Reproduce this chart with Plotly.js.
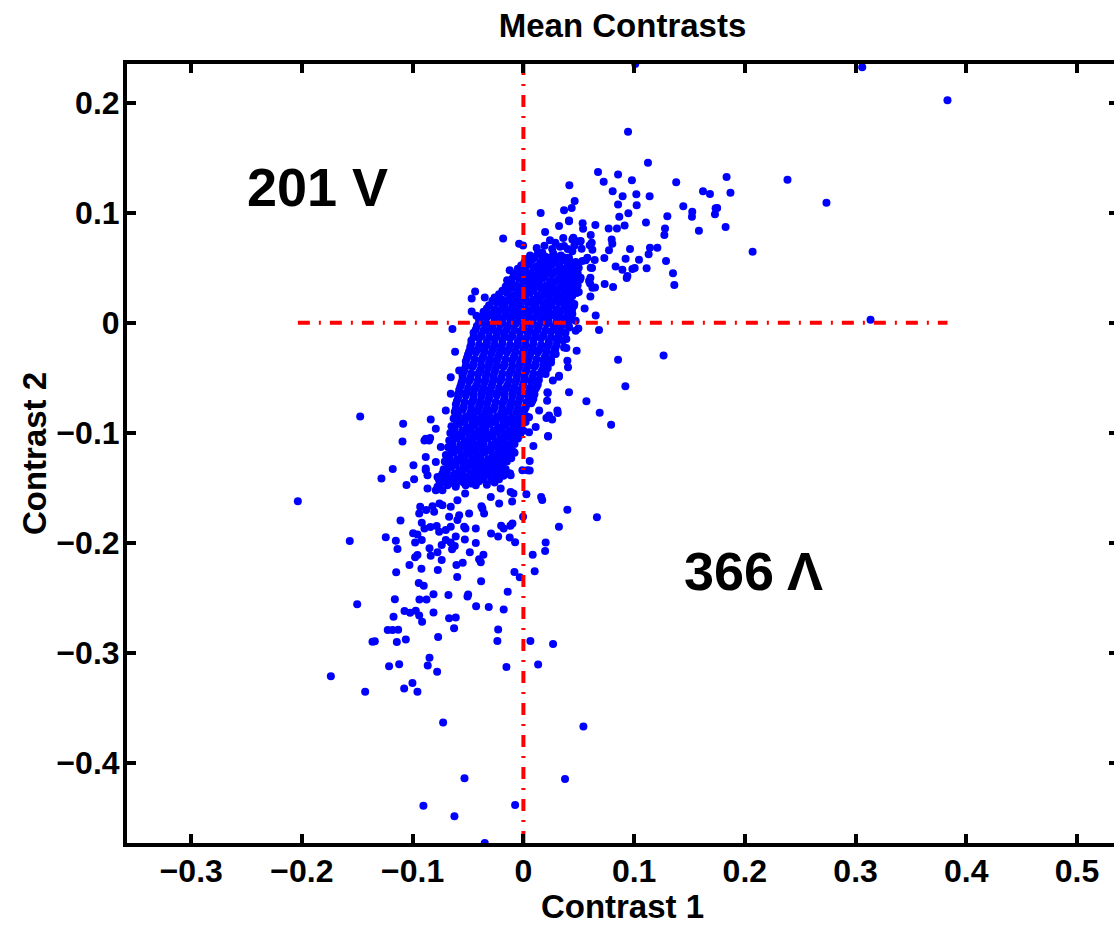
<!DOCTYPE html>
<html>
<head>
<meta charset="utf-8">
<script src="https://cdn.plot.ly/plotly-3.0.1.min.js"></script>
<style>
html,body{margin:0;padding:0;overflow:hidden;background:#fff;}
#chart{width:1118px;height:925px;}
</style>
</head>
<body>
<div id="chart"></div>
<script>
// ---- Data (Contrast 1, Contrast 2) ----
const scatteredPoints = [
[0.101,0.235],[0.306,0.232],[0.383,0.202],[0.0945,0.1735],[0.1125,0.1454],[0.0674,0.137],[0.0855,0.1346],[0.0725,0.128],
[0.098,0.1294],[0.0415,0.1249],[0.138,0.1276],[0.1835,0.1324],[0.2385,0.130],[0.2737,0.1089],[0.0806,0.1195],[0.0896,0.1149],
[0.102,0.1167],[0.114,0.1149],[0.1622,0.1195],[0.1685,0.117],[0.187,0.118],[0.0463,0.1107],[0.0436,0.1043],[0.0367,0.1023],
[0.0855,0.1074],[0.1023,0.1068],[0.0948,0.0995],[0.0866,0.0962],[0.1444,0.1059],[0.1525,0.1008],[0.1522,0.0962],[0.175,0.1043],
[0.1736,0.104],[0.173,0.0986],[0.13,0.0968],[0.0412,0.0929],[0.0535,0.0905],[0.0539,0.0853],[0.065,0.0887],[0.077,0.0857],
[0.0845,0.0857],[0.0914,0.0884],[0.1107,0.091],[0.1279,0.0857],[0.1273,0.0797],[0.1585,0.0835],[0.1826,0.0869],[0.0608,0.0797],
[0.0451,0.0772],[0.0514,0.0739],[0.0617,0.0727],[0.0797,0.0757],[0.0803,0.0718],[0.0599,0.0703],[0.0623,0.0663],[0.0526,0.0672],
[0.0442,0.0649],[0.0773,0.0658],[0.0963,0.067],[0.121,0.0682],[0.1143,0.0682],[0.1131,0.0622],[0.1044,0.0573],[0.0923,0.0582],
[0.0731,0.0588],[0.0644,0.057],[0.1288,0.0561],[0.207,0.0645],[0.0833,0.051],[0.0894,0.0482],[0.0984,0.0489],[0.1005,0.0498],
[0.1113,0.0495],[0.062,0.0498],[0.0563,0.0567],[0.0473,0.0552],[0.1351,0.045],[0.1363,0.0344],[0.0939,0.0425],[0.0933,0.0407],
[0.0734,0.0353],[0.081,0.0326],[0.0605,0.041],[0.0602,0.0356],[0.0647,0.032],[0.0605,0.0238],[0.0553,0.013],[0.0653,0.0066],
[0.3135,0.0027],[0.0496,-0.0052],[0.0683,-0.0066],[0.0481,-0.0253],[0.0388,-0.0148],[0.0388,-0.0229],[0.0855,-0.0335],[0.1266,-0.0296],
[0.0156,0.0998],[0.0196,0.0824],[0.0322,0.0878],[0.0412,0.0923],[-0.0183,0.0766],[-0.0039,0.0718],[-0.0003,0.0701],
[-0.0436,0.0283],[-0.0467,0.022],[-0.0349,0.0229],[-0.0467,0.0102],[-0.0424,0.0063],[-0.0641,-0.0057],[-0.0617,-0.0262],
[-0.0124,0.0477],[-0.0147,0.0386],[0.0039,0.0552],[0.0102,0.0597],[0.0171,0.0636],[0.0277,0.0612],[0.0403,-0.0404],[0.0472,-0.0072],
[0.0289,0.0727],[0.0367,0.0697],[0.0442,0.0757],[0.0517,0.0742],[0.0578,0.0591],[0.0532,0.0561],[0.0608,0.05],[0.0412,0.0591],
[0.0457,0.05],[0.0517,0.041],[0.0593,0.038],[0.0623,0.0319],[0.0442,0.0079],[0.0472,0.0018],[0.0367,-0.0012],
[0.0412,0.0561],[0.0457,0.0531],[0.0382,0.0441],[0.0427,0.041],[0.0367,0.0319],[0.0442,0.029],[0.0487,0.029],[0.0382,0.0199],
[0.0457,0.0154],[0.0412,0.0079],[0.0412,-0.0042],
[-0.0496,-0.0283],[-0.058,-0.0434],[-0.0656,-0.0495],[-0.055,-0.0525],[-0.0656,-0.0645],[-0.0701,-0.0796],[-0.0837,-0.0878],
[-0.0882,-0.1053],[-0.0882,-0.1219],
[0.0201,-0.0314],[0.0292,-0.0283],[0.0367,-0.0224],[0.0397,-0.0344],[0.0201,-0.0464],[0.0322,-0.048],[0.0412,-0.0631],[0.0217,-0.0631],
[0.0569,-0.0712],[0.0689,-0.0817],[0.0792,-0.0926],[0.0921,-0.0576],[0.0223,-0.1029],[0.009,-0.1119],[0.0051,-0.0857],[0.0232,-0.0842],
[0.0111,-0.0947],[-0.012,-0.1369],[-0.0009,-0.1339],
[0.0321,-0.0491],[0.0266,-0.0525],[0.022,-0.0638],[0.0214,-0.0709],[0.031,-0.0819],[0.0208,-0.0865],[0.026,-0.0878],[0.017,-0.161],
[0.0397,-0.1697],[0.0664,-0.1765],[0.0321,-0.1853],[0.0233,-0.0359],[0.0202,-0.043],
[-0.0791,-0.0962],[-0.0851,-0.1068],[-0.0746,-0.1128],[-0.0791,-0.1264],[-0.0882,-0.1324],[-0.0866,-0.1385],[-0.0776,-0.14],
[-0.0866,-0.1505],[-0.0776,-0.149],[-0.0686,-0.1475],[-0.0611,-0.1415],[-0.0521,-0.1475],[-0.043,-0.1475],[-0.0415,-0.1355],
[-0.0355,-0.1324],[-0.028,-0.1279],[-0.0265,-0.1355],[-0.019,-0.1339],[-0.0115,-0.1385],[-0.0295,-0.1581],[-0.0205,-0.1505],
[-0.0115,-0.1536],[-0.0219,-0.1641],[-0.037,-0.1686],[-0.049,-0.1731],[-0.0596,-0.1611],[-0.0656,-0.1671],[-0.0731,-0.1656],
[-0.0806,-0.1716],[-0.058,-0.1747],
[0.0081,-0.0645],[0.0142,-0.0796],[0.0051,-0.0993],[0.0307,-0.0796],[0.0036,-0.1339],
[-0.1474,-0.0851],[-0.2037,-0.162],[-0.1568,-0.1982],[-0.1501,-0.2555],[-0.1739,-0.321],[-0.1429,-0.335],[-0.1086,-0.0917],
[-0.1092,-0.1077],[-0.118,-0.1328],[-0.1282,-0.1415],[-0.1056,-0.1472],[-0.0993,-0.1294],[-0.0987,-0.1421],[-0.0894,-0.1068],
[-0.0842,-0.1047],[-0.111,-0.1795],[-0.1243,-0.1948],[-0.1152,-0.1979],[-0.1137,-0.2054],[-0.0996,-0.1912],[-0.0978,-0.1996],
[-0.0957,-0.2109],[-0.0978,-0.213],[-0.1029,-0.2199],[-0.1149,-0.2265],[-0.0921,-0.2233],[-0.0945,-0.2362],[-0.09,-0.2389],
[-0.1161,-0.251],[-0.0939,-0.2513],[-0.0875,-0.2513],[-0.1074,-0.2618],[-0.1023,-0.2633],[-0.0972,-0.2615],[-0.0941,-0.2657],
[-0.0915,-0.2715],[-0.1173,-0.267],[-0.1225,-0.279],[-0.1182,-0.279],[-0.1131,-0.2787],[-0.1363,-0.2896],[-0.1342,-0.2893],
[-0.1143,-0.2899],[-0.1062,-0.2875],[-0.1213,-0.312],[-0.1122,-0.3101],[-0.1077,-0.3321],[-0.1002,-0.327],[-0.0957,-0.3351],
[-0.0848,-0.3041],[-0.0864,-0.3113],[-0.0779,-0.317],[-0.077,-0.2853],[-0.0812,-0.2465],[-0.0812,-0.2631],[-0.0677,-0.2471],
[-0.0671,-0.2683],[-0.0611,-0.2677],[-0.0626,-0.2773],[-0.0598,-0.2308],[-0.0382,-0.2347],[-0.0499,-0.2468],[-0.0505,-0.2486],
[-0.0427,-0.2573],[-0.0313,-0.2582],[-0.0178,-0.2604],[-0.0142,-0.2443],[-0.0228,-0.2785],[-0.0235,-0.289],[-0.0153,-0.3125],
[0.0063,-0.289],[0.0133,-0.3104],[0.0268,-0.2917],[-0.0081,-0.2262],[-0.0033,-0.231],[0.0102,-0.2256],[0.0084,-0.2106],
[0.0201,-0.1996],[0.0196,-0.2072],[0.0223,-0.1032],[0.016,-0.1581],[0.0027,-0.1557],[-0.0003,-0.1762],[-0.0075,-0.1994],
[0.0057,-0.1342],[0.0057,-0.1255],[-0.0102,-0.1623],[-0.009,-0.155],[-0.0201,-0.1843],[-0.0178,-0.1867],[-0.0117,-0.1843],
[-0.0292,-0.1914],[-0.0228,-0.1941],[-0.0124,-0.195],[-0.043,-0.2],[-0.0361,-0.2106],[-0.0385,-0.2175],[-0.04,-0.2148],
[-0.0484,-0.2084],[-0.0548,-0.2178],[-0.0605,-0.2199],[-0.0529,-0.1967],[-0.043,-0.1867],[-0.0523,-0.1867],[-0.0611,-0.1941],
[-0.0656,-0.1996],[-0.0701,-0.1973],[-0.062,-0.2027],[-0.0644,-0.2057],[-0.0738,-0.2018],[-0.0738,-0.2154],[-0.0773,-0.2244],
[-0.0848,-0.2048],[-0.0837,-0.2115],[-0.0776,-0.2084],[-0.0918,-0.1973],[-0.0957,-0.1922],[-0.0894,-0.1867],[-0.084,-0.1855],
[-0.0761,-0.1898],[-0.0783,-0.1846],[-0.0701,-0.1882],[-0.0918,-0.1816],[-0.0932,-0.1671],[-0.0941,-0.1731],[-0.0878,-0.1701],
[-0.0821,-0.1665],[-0.0758,-0.1641],[-0.0671,-0.1762],[-0.0535,-0.1853],[-0.0656,-0.1853],[-0.0596,-0.1792],[-0.0099,-0.1822],
[-0.0355,-0.1731],[-0.0379,-0.1665],[-0.0433,-0.143],[-0.0409,-0.1388],[-0.0526,-0.155],[-0.055,-0.143],[-0.0611,-0.149],
[-0.0671,-0.146],[-0.0731,-0.152],[-0.0791,-0.152],[-0.0761,-0.143],[-0.0731,-0.1369],[-0.0882,-0.1339],[-0.0295,-0.1333],
[-0.034,-0.1355],[-0.025,-0.131],[-0.0219,-0.1249],[-0.0183,-0.1231],[-0.0126,-0.1369],
[-0.0725,-0.3629],[-0.0532,-0.4136],[-0.0903,-0.4386],[-0.0623,-0.448],[-0.0349,-0.4724],[-0.0075,-0.438],[0.0376,-0.4142],[0.0542,-0.3665]
];

const densePoints = [
[0.024,0.075],[0.036,0.077],[0.048,0.074],
[0.012,0.068],[0.019,0.070],[0.026,0.067],[0.033,0.069],[0.040,0.067],[0.046,0.070],
[0.006,0.061],[0.013,0.063],[0.020,0.060],[0.027,0.063],[0.034,0.061],[0.040,0.059],
[0.001,0.055],[0.008,0.057],[0.015,0.054],[0.022,0.056],[0.029,0.055],[0.036,0.057],[0.043,0.054],
[-0.005,0.049],[0.002,0.047],[0.009,0.050],[0.016,0.048],[0.023,0.050],[0.030,0.047],[0.037,0.049],[0.044,0.048],[0.050,0.050],
[-0.009,0.042],[-0.002,0.044],[0.005,0.041],[0.012,0.043],[0.019,0.042],[0.026,0.044],[0.033,0.041],[0.040,0.043],[0.047,0.042],
[-0.014,0.036],[-0.007,0.034],[0.000,0.037],[0.007,0.035],[0.014,0.036],[0.021,0.034],[0.028,0.037],[0.035,0.035],[0.042,0.036],[0.049,0.034],
[-0.019,0.029],[-0.012,0.031],[-0.005,0.028],[0.002,0.030],[0.009,0.029],[0.016,0.031],[0.023,0.028],[0.030,0.030],[0.037,0.029],[0.044,0.031],[0.050,0.028],
[-0.026,0.023],[-0.019,0.021],[-0.012,0.024],[-0.005,0.022],[0.002,0.023],[0.009,0.021],[0.016,0.024],[0.023,0.022],[0.030,0.023],[0.037,0.021],[0.044,0.024],
[-0.031,0.016],[-0.024,0.018],[-0.017,0.015],[-0.010,0.017],[-0.003,0.016],[0.004,0.018],[0.011,0.015],[0.018,0.017],[0.025,0.016],[0.032,0.018],[0.039,0.015],[0.046,0.017],
[-0.036,0.010],[-0.029,0.008],[-0.022,0.011],[-0.015,0.009],[-0.008,0.010],[-0.001,0.008],[0.006,0.011],[0.013,0.009],[0.020,0.010],[0.027,0.008],[0.034,0.011],[0.041,0.009],
[-0.040,0.003],[-0.033,0.005],[-0.026,0.002],[-0.019,0.004],[-0.012,0.003],[-0.005,0.005],[0.002,0.002],[0.009,0.004],[0.016,0.003],[0.023,0.005],[0.030,0.002],[0.037,0.004],[0.043,0.003],
[-0.042,-0.003],[-0.035,-0.001],[-0.028,-0.004],[-0.021,-0.002],[-0.014,-0.003],[-0.007,-0.001],[0.000,-0.004],[0.007,-0.002],[0.014,-0.003],[0.021,-0.001],[0.028,-0.004],[0.035,-0.002],[0.041,-0.003],
[-0.045,-0.009],[-0.038,-0.011],[-0.031,-0.008],[-0.024,-0.010],[-0.017,-0.009],[-0.010,-0.011],[-0.003,-0.008],[0.004,-0.010],[0.011,-0.009],[0.018,-0.011],[0.025,-0.008],[0.032,-0.010],[0.038,-0.009],
[-0.047,-0.016],[-0.040,-0.014],[-0.033,-0.017],[-0.026,-0.015],[-0.019,-0.016],[-0.012,-0.014],[-0.005,-0.017],[0.002,-0.015],[0.009,-0.016],[0.016,-0.014],[0.023,-0.017],[0.030,-0.015],[0.036,-0.016],
[-0.048,-0.022],[-0.041,-0.024],[-0.034,-0.021],[-0.027,-0.023],[-0.020,-0.022],[-0.013,-0.024],[-0.006,-0.021],[0.001,-0.023],[0.008,-0.022],[0.015,-0.024],[0.022,-0.021],[0.029,-0.023],
[-0.050,-0.029],[-0.043,-0.027],[-0.036,-0.030],[-0.029,-0.028],[-0.022,-0.029],[-0.015,-0.027],[-0.008,-0.030],[-0.001,-0.028],[0.006,-0.029],[0.013,-0.027],[0.020,-0.030],[0.027,-0.028],
[-0.052,-0.035],[-0.045,-0.037],[-0.038,-0.034],[-0.031,-0.036],[-0.024,-0.035],[-0.017,-0.037],[-0.010,-0.034],[-0.003,-0.036],[0.004,-0.035],[0.011,-0.037],[0.018,-0.034],[0.025,-0.036],
[-0.053,-0.042],[-0.046,-0.040],[-0.039,-0.043],[-0.032,-0.041],[-0.025,-0.042],[-0.018,-0.040],[-0.011,-0.043],[-0.004,-0.041],[0.003,-0.042],[0.010,-0.040],[0.017,-0.043],[0.022,-0.041],
[-0.055,-0.048],[-0.048,-0.050],[-0.041,-0.047],[-0.034,-0.049],[-0.027,-0.048],[-0.020,-0.050],[-0.013,-0.047],[-0.006,-0.049],[0.001,-0.048],[0.008,-0.050],[0.015,-0.047],
[-0.056,-0.055],[-0.049,-0.053],[-0.042,-0.056],[-0.035,-0.054],[-0.028,-0.055],[-0.021,-0.053],[-0.014,-0.056],[-0.007,-0.054],[0.000,-0.055],[0.007,-0.053],[0.013,-0.056],
[-0.058,-0.061],[-0.051,-0.063],[-0.044,-0.060],[-0.037,-0.062],[-0.030,-0.061],[-0.023,-0.063],[-0.016,-0.060],[-0.009,-0.062],[-0.002,-0.061],[0.005,-0.063],[0.011,-0.060],
[-0.059,-0.068],[-0.052,-0.066],[-0.045,-0.069],[-0.038,-0.067],[-0.031,-0.068],[-0.024,-0.066],[-0.017,-0.069],[-0.010,-0.067],[-0.003,-0.068],[0.004,-0.066],[0.009,-0.069],
[-0.061,-0.074],[-0.054,-0.076],[-0.047,-0.073],[-0.040,-0.075],[-0.033,-0.074],[-0.026,-0.076],[-0.019,-0.073],[-0.012,-0.075],[-0.005,-0.074],[0.002,-0.076],[0.007,-0.073],
[-0.062,-0.081],[-0.055,-0.079],[-0.048,-0.082],[-0.041,-0.080],[-0.034,-0.081],[-0.027,-0.079],[-0.020,-0.082],[-0.013,-0.080],[-0.006,-0.081],[0.001,-0.079],
[-0.063,-0.087],[-0.056,-0.089],[-0.049,-0.086],[-0.042,-0.088],[-0.035,-0.087],[-0.028,-0.089],[-0.021,-0.086],[-0.014,-0.088],[-0.007,-0.087],[0.000,-0.089],
[-0.065,-0.094],[-0.058,-0.092],[-0.051,-0.095],[-0.044,-0.093],[-0.037,-0.094],[-0.030,-0.092],[-0.023,-0.095],[-0.016,-0.093],[-0.009,-0.094],[-0.002,-0.092],
[-0.066,-0.100],[-0.059,-0.102],[-0.052,-0.099],[-0.045,-0.101],[-0.038,-0.100],[-0.031,-0.102],[-0.024,-0.099],[-0.017,-0.101],[-0.010,-0.100],[-0.003,-0.102],
[-0.067,-0.107],[-0.060,-0.105],[-0.053,-0.108],[-0.046,-0.106],[-0.039,-0.107],[-0.032,-0.105],[-0.025,-0.108],[-0.018,-0.106],[-0.011,-0.107],[-0.005,-0.105],
[-0.068,-0.113],[-0.061,-0.115],[-0.054,-0.112],[-0.047,-0.114],[-0.040,-0.113],[-0.033,-0.115],[-0.026,-0.112],[-0.019,-0.114],[-0.012,-0.113],
[-0.070,-0.120],[-0.063,-0.118],[-0.056,-0.121],[-0.049,-0.119],[-0.042,-0.120],[-0.035,-0.118],[-0.028,-0.121],[-0.021,-0.119],[-0.014,-0.120],[-0.008,-0.118],
[-0.071,-0.126],[-0.064,-0.128],[-0.057,-0.125],[-0.050,-0.127],[-0.043,-0.126],[-0.036,-0.128],[-0.029,-0.125],[-0.022,-0.127],[-0.015,-0.126],
[-0.072,-0.133],[-0.065,-0.131],[-0.058,-0.134],[-0.051,-0.132],[-0.044,-0.133],[-0.037,-0.131],[-0.030,-0.134],[-0.023,-0.132],[-0.016,-0.133],
[-0.074,-0.139],[-0.067,-0.141],[-0.060,-0.138],[-0.053,-0.140],[-0.046,-0.139],[-0.039,-0.141],[-0.032,-0.138],[-0.025,-0.140],[-0.018,-0.139],
[-0.075,-0.146],[-0.068,-0.144],[-0.061,-0.147],[-0.054,-0.145],[-0.047,-0.146],[-0.040,-0.144],[-0.033,-0.147],[-0.026,-0.145]
];

const denseInfillPoints = [
[0.003,0.058],[0.010,0.059],[0.017,0.058],[0.024,0.059],[0.031,0.058],[0.038,0.059],
[-0.002,0.052],[0.005,0.053],[0.012,0.051],[0.019,0.052],[0.026,0.053],[0.033,0.051],[0.040,0.052],[0.047,0.053],
[-0.007,0.045],[0.000,0.046],[0.007,0.045],[0.014,0.046],[0.021,0.045],[0.028,0.046],[0.035,0.045],[0.042,0.046],[0.049,0.045],
[-0.011,0.039],[-0.004,0.040],[0.003,0.038],[0.010,0.039],[0.017,0.040],[0.024,0.038],[0.031,0.039],[0.038,0.040],[0.045,0.038],[0.051,0.039],
[-0.016,0.033],[-0.009,0.032],[-0.002,0.033],[0.005,0.032],[0.012,0.033],[0.019,0.032],[0.026,0.033],[0.033,0.032],[0.040,0.033],[0.047,0.032],
[-0.022,0.026],[-0.015,0.027],[-0.008,0.025],[-0.001,0.026],[0.006,0.027],[0.013,0.025],[0.020,0.026],[0.027,0.027],[0.034,0.025],[0.041,0.026],[0.048,0.027],
[-0.028,0.020],[-0.021,0.019],[-0.014,0.020],[-0.007,0.019],[0.000,0.020],[0.007,0.019],[0.014,0.020],[0.021,0.019],[0.028,0.020],[0.035,0.019],[0.042,0.020],
[-0.033,0.013],[-0.026,0.012],[-0.019,0.013],[-0.012,0.012],[-0.005,0.013],[0.002,0.012],[0.009,0.013],[0.016,0.012],[0.023,0.013],[0.030,0.012],[0.037,0.013],[0.044,0.012],
[-0.037,0.006],[-0.030,0.007],[-0.023,0.006],[-0.016,0.007],[-0.009,0.006],[-0.002,0.007],[0.005,0.006],[0.012,0.007],[0.019,0.006],[0.026,0.007],[0.033,0.006],[0.040,0.007],
[-0.040,0.000],[-0.033,-0.001],[-0.026,0.001],[-0.019,0.000],[-0.012,-0.001],[-0.005,0.001],[0.002,0.000],[0.009,-0.001],[0.016,0.001],[0.023,0.000],[0.030,-0.001],[0.037,0.001],
[-0.043,-0.006],[-0.036,-0.007],[-0.029,-0.006],[-0.022,-0.007],[-0.015,-0.006],[-0.008,-0.007],[-0.001,-0.006],[0.006,-0.007],[0.013,-0.006],[0.020,-0.007],[0.027,-0.006],[0.034,-0.007],
[-0.045,-0.013],[-0.038,-0.012],[-0.031,-0.013],[-0.024,-0.012],[-0.017,-0.013],[-0.010,-0.012],[-0.003,-0.013],[0.004,-0.012],[0.011,-0.013],[0.018,-0.012],[0.025,-0.013],[0.032,-0.012],
[-0.047,-0.019],[-0.040,-0.020],[-0.033,-0.019],[-0.026,-0.020],[-0.019,-0.019],[-0.012,-0.020],[-0.005,-0.019],[0.002,-0.020],[0.009,-0.019],[0.016,-0.020],[0.023,-0.019],[0.030,-0.020],
[-0.049,-0.026],[-0.042,-0.025],[-0.035,-0.026],[-0.028,-0.025],[-0.021,-0.026],[-0.014,-0.025],[-0.007,-0.026],[0.000,-0.025],[0.007,-0.026],[0.014,-0.025],[0.021,-0.026],[0.028,-0.025],
[-0.051,-0.032],[-0.044,-0.033],[-0.037,-0.032],[-0.030,-0.033],[-0.023,-0.032],[-0.016,-0.033],[-0.009,-0.032],[-0.002,-0.033],[0.005,-0.032],[0.012,-0.033],[0.019,-0.032],[0.025,-0.033],
[-0.052,-0.039],[-0.045,-0.038],[-0.038,-0.039],[-0.031,-0.038],[-0.024,-0.039],[-0.017,-0.038],[-0.010,-0.039],[-0.003,-0.038],[0.004,-0.039],[0.011,-0.038],[0.018,-0.039],
[-0.054,-0.045],[-0.047,-0.046],[-0.040,-0.045],[-0.033,-0.046],[-0.026,-0.045],[-0.019,-0.046],[-0.012,-0.045],[-0.005,-0.046],[0.002,-0.045],[0.009,-0.046],[0.016,-0.045],
[-0.055,-0.052],[-0.048,-0.051],[-0.041,-0.052],[-0.034,-0.051],[-0.027,-0.052],[-0.020,-0.051],[-0.013,-0.052],[-0.006,-0.051],[0.001,-0.052],[0.008,-0.051],[0.014,-0.052],
[-0.057,-0.058],[-0.050,-0.059],[-0.043,-0.058],[-0.036,-0.059],[-0.029,-0.058],[-0.022,-0.059],[-0.015,-0.058],[-0.008,-0.059],[-0.001,-0.058],[0.006,-0.059],[0.012,-0.058],
[-0.059,-0.065],[-0.052,-0.064],[-0.045,-0.065],[-0.038,-0.064],[-0.031,-0.065],[-0.024,-0.064],[-0.017,-0.065],[-0.010,-0.064],[-0.003,-0.065],[0.004,-0.064],[0.010,-0.065],
[-0.060,-0.071],[-0.053,-0.072],[-0.046,-0.071],[-0.039,-0.072],[-0.032,-0.071],[-0.025,-0.072],[-0.018,-0.071],[-0.011,-0.072],[-0.004,-0.071],[0.003,-0.072],[0.008,-0.071],
[-0.061,-0.078],[-0.054,-0.077],[-0.047,-0.078],[-0.040,-0.077],[-0.033,-0.078],[-0.026,-0.077],[-0.019,-0.078],[-0.012,-0.077],[-0.005,-0.078],[0.002,-0.077],
[-0.059,-0.084],[-0.052,-0.085],[-0.045,-0.084],[-0.038,-0.085],[-0.031,-0.084],[-0.024,-0.085],[-0.017,-0.084],[-0.010,-0.085],[-0.003,-0.084],[0.003,-0.085],
[-0.060,-0.091],[-0.053,-0.090],[-0.046,-0.091],[-0.039,-0.090],[-0.032,-0.091],[-0.025,-0.090],[-0.018,-0.091],[-0.011,-0.090],[-0.004,-0.091],[0.002,-0.090],
[-0.062,-0.097],[-0.055,-0.098],[-0.048,-0.097],[-0.041,-0.098],[-0.034,-0.097],[-0.027,-0.098],[-0.020,-0.097],[-0.013,-0.098],[-0.006,-0.097],[0.000,-0.098],
[-0.063,-0.104],[-0.056,-0.103],[-0.049,-0.104],[-0.042,-0.103],[-0.035,-0.104],[-0.028,-0.103],[-0.021,-0.104],[-0.014,-0.103],[-0.007,-0.104],
[-0.064,-0.110],[-0.057,-0.111],[-0.050,-0.110],[-0.043,-0.111],[-0.036,-0.110],[-0.029,-0.111],[-0.022,-0.110],[-0.015,-0.111],[-0.008,-0.110],
[-0.065,-0.117],[-0.058,-0.116],[-0.051,-0.117],[-0.044,-0.116],[-0.037,-0.117],[-0.030,-0.116],[-0.023,-0.117],[-0.016,-0.116],[-0.009,-0.117],
[-0.067,-0.123],[-0.060,-0.124],[-0.053,-0.123],[-0.046,-0.124],[-0.039,-0.123],[-0.032,-0.124],[-0.025,-0.123],[-0.018,-0.124],[-0.011,-0.123],
[-0.068,-0.130],[-0.061,-0.129],[-0.054,-0.130],[-0.047,-0.129],[-0.040,-0.130],[-0.033,-0.129],[-0.026,-0.130],[-0.019,-0.129],
[-0.069,-0.136],[-0.062,-0.137],[-0.055,-0.136],[-0.048,-0.137],[-0.041,-0.136],[-0.034,-0.137],[-0.027,-0.136],[-0.020,-0.137],
[-0.071,-0.143],[-0.064,-0.142],[-0.057,-0.143],[-0.050,-0.142],[-0.043,-0.143],[-0.036,-0.142],[-0.029,-0.143],[-0.022,-0.142]
];

const xTickValues = [-0.3,-0.2,-0.1,0,0.1,0.2,0.3,0.4,0.5];
const xTickLabels = ['\u22120.3','\u22120.2','\u22120.1','0','0.1','0.2','0.3','0.4','0.5'];
const yTickValues = [-0.4,-0.3,-0.2,-0.1,0,0.1,0.2];
const yTickLabels = ['\u22120.4','\u22120.3','\u22120.2','\u22120.1','0','0.1','0.2'];
const quadrantLabels = ['201 V','366 \u039B'];
const quadrantLabelPos = [[-0.186,0.1235],[0.208,-0.225]];
const chartTitle = 'Mean Contrasts';
const xTitle = 'Contrast 1';
const yTitle = 'Contrast 2';

// ---- Build traces ----
const allPoints = scatteredPoints.concat(densePoints, denseInfillPoints);
const xs = allPoints.map(p=>p[0]);
const ys = allPoints.map(p=>p[1]);
const xMin = Math.min(...xs), xMax = Math.max(...xs);
const yMin = Math.min(...ys), yMax = Math.max(...ys);

const FONT = 'Liberation Sans, Arial, Helvetica, sans-serif';

const scatterTrace = {
  type:'scatter', mode:'markers', x:xs, y:ys,
  marker:{color:'#0000ff', size:8, line:{width:0}},
  cliponaxis:false, hoverinfo:'skip', showlegend:false
};
const redLine = {color:'#ff0000', width:4, dash:'12px,9px,2px,9px'};
const hLine = {type:'scatter', mode:'lines', x:[xMin,xMax], y:[0,0], line:redLine, hoverinfo:'skip', showlegend:false};
const vLine = {type:'scatter', mode:'lines', x:[0,0], y:[yMin,yMax], line:redLine, hoverinfo:'skip', showlegend:false, cliponaxis:false};

const axisCommon = {
  showline:true, linecolor:'#000', linewidth:4, mirror:'ticks',
  ticks:'inside', ticklen:9, tickwidth:4, tickcolor:'#000',
  showgrid:false, zeroline:false,
  tickfont:{family:FONT, size:32, color:'#000', weight:'bold'},
  tickmode:'array'
};

const layout = {
  width:1118, height:925,
  margin:{l:127, r:0, t:64, b:82, pad:0},
  paper_bgcolor:'#fff', plot_bgcolor:'#fff',
  font:{family:FONT, color:'#000'},
  title:{text:chartTitle, font:{family:FONT, size:33, color:'#000', weight:'bold'},
         x:0.5, xref:'paper', y:1-25/925, yref:'container', yanchor:'middle'},
  xaxis:Object.assign({}, axisCommon, {
    range:[-0.358,0.537], tickvals:xTickValues, ticktext:xTickLabels, ticklabelstandoff:-3,
    title:{text:xTitle, font:{family:FONT, size:33, color:'#000', weight:'bold'}, standoff:4}
  }),
  yaxis:Object.assign({}, axisCommon, {
    range:[yMin,yMax], tickvals:yTickValues, ticktext:yTickLabels, ticklabelstandoff:-3,
    title:{text:yTitle, font:{family:FONT, size:33, color:'#000', weight:'bold'}, standoff:1}
  }),
  annotations: quadrantLabels.map((t,i)=>({
    text:t, x:quadrantLabelPos[i][0], y:quadrantLabelPos[i][1], xref:'x', yref:'y',
    showarrow:false, xanchor:'center', yanchor:'middle',
    font:{family:FONT, size:54, color:'#000', weight:'bold'}
  }))
};

Plotly.newPlot('chart', [scatterTrace, hLine, vLine], layout, {staticPlot:true, displayModeBar:false});
</script>
</body>
</html>
